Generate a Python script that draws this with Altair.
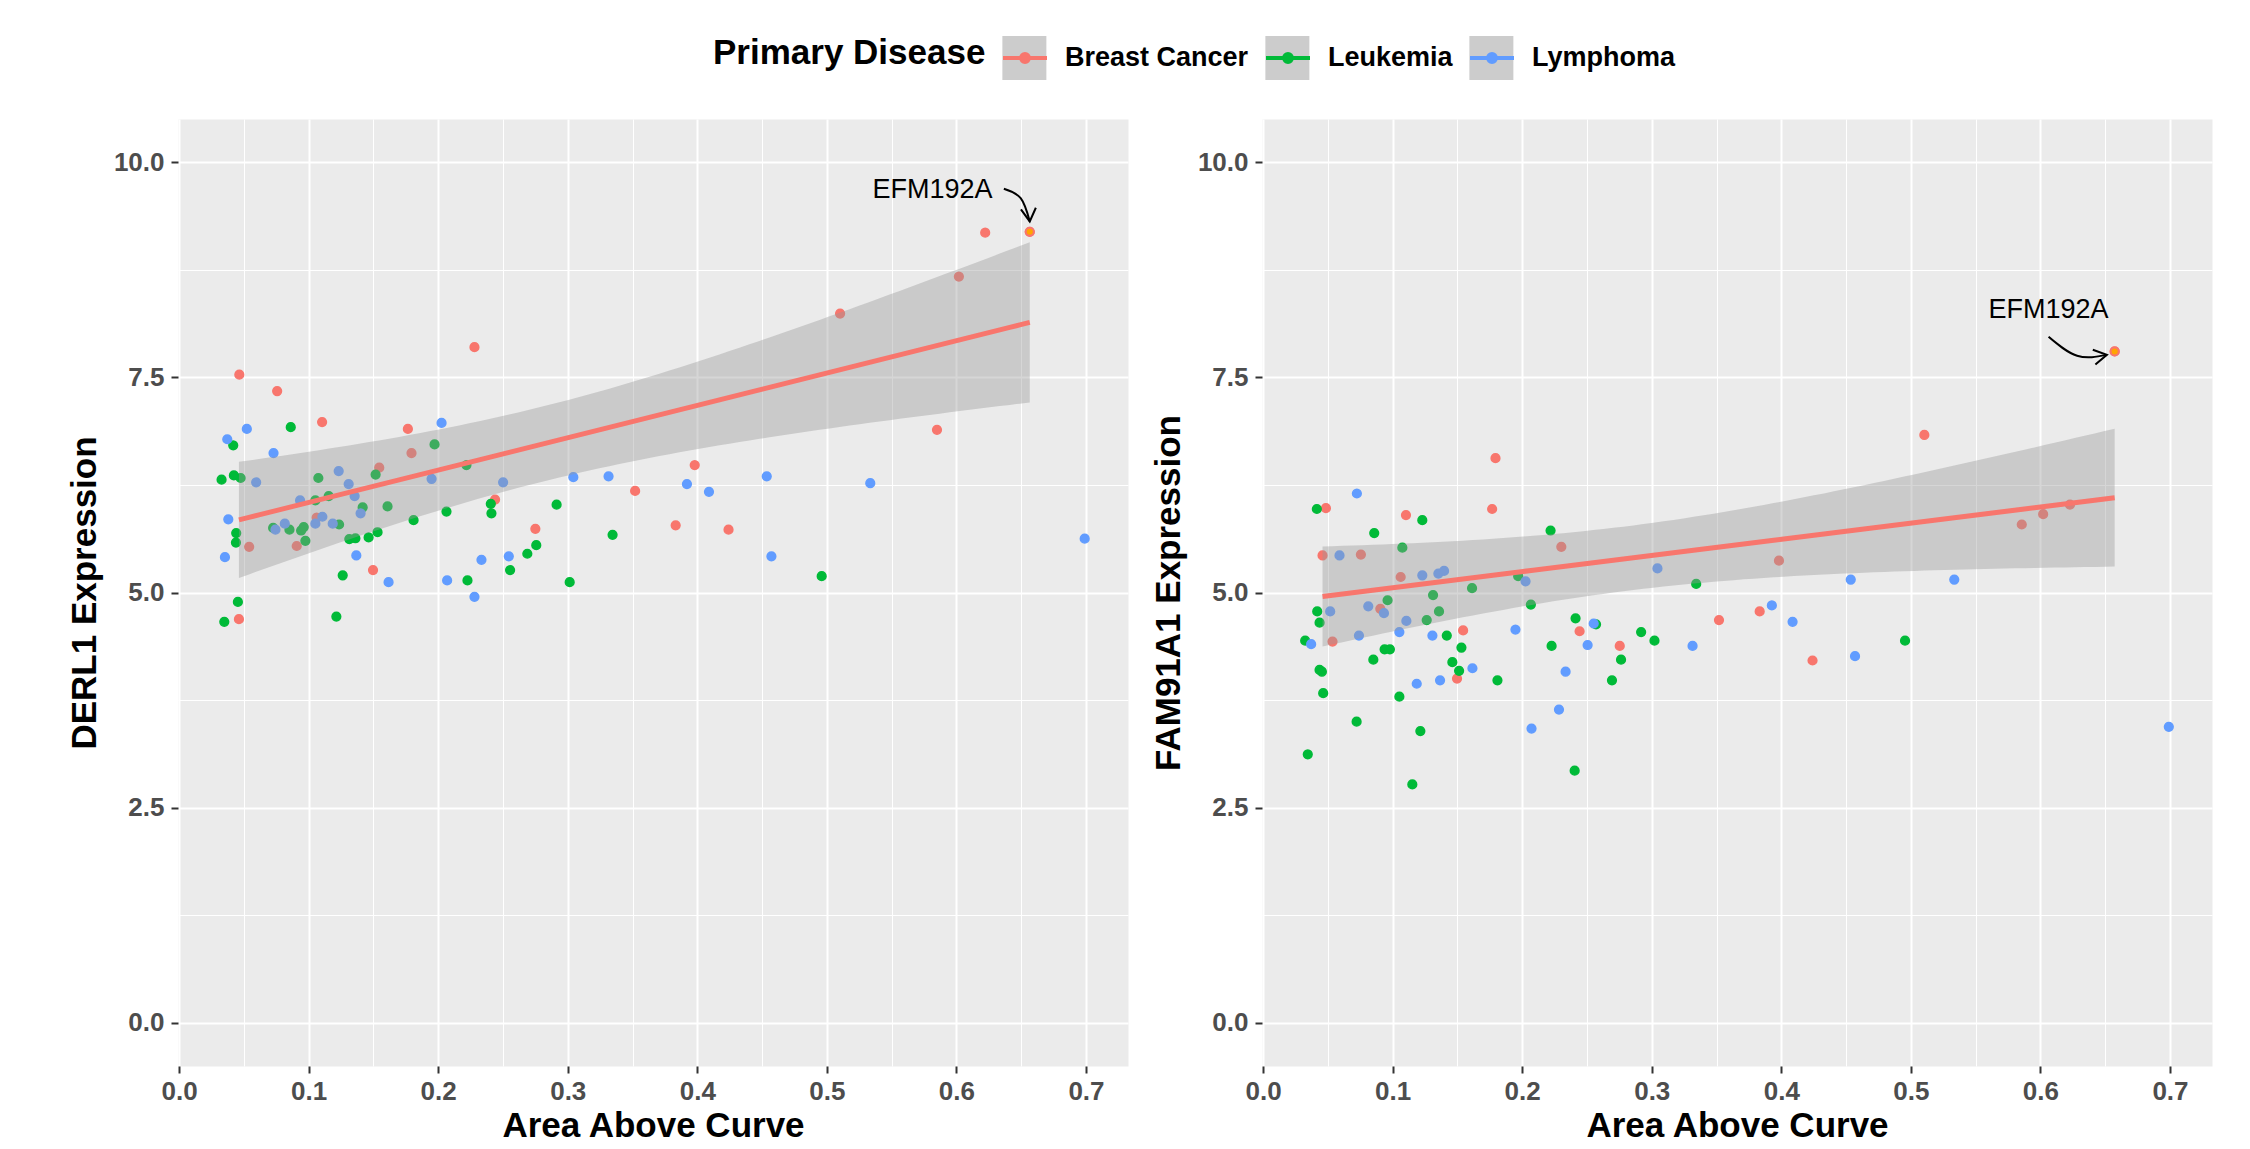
import altair as alt
import numpy as np
import pandas as pd

FONT = "Liberation Sans"

diseases = ["Breast Cancer", "Leukemia", "Lymphoma"]
disease_colors = ["#F8766D", "#00BA38", "#619CFF"]

# ---------------- DERL1 panel ----------------
derl1_breast_aac = [0.0757, 0.1104, 0.1545, 0.1766, 0.1794, 0.1062, 0.0541, 0.0908, 0.2439, 0.275,
                    0.1497, 0.0462, 0.0465, 0.228, 0.352, 0.398, 0.585, 0.3833, 0.4241, 0.5102,
                    0.6019, 0.6222, 0.6566]
derl1_breast_expr = [7.34, 6.98, 6.45, 6.90, 6.62, 5.87, 5.53, 5.54, 6.08, 5.74,
                     5.26, 4.69, 7.53, 7.85, 6.18, 6.48, 6.89, 5.78, 5.73, 8.24,
                     8.67, 9.18, 9.19]
derl1_leuk_aac = [0.0862, 0.0418, 0.0328, 0.0423, 0.0475, 0.1075, 0.1517, 0.1972, 0.2218, 0.1052,
                  0.1155, 0.1417, 0.1609, 0.1235, 0.0726, 0.0852, 0.0962, 0.0942, 0.0975, 0.0441,
                  0.0439, 0.1314, 0.1361, 0.1463, 0.1532, 0.181, 0.2064, 0.2406, 0.2411, 0.2914,
                  0.2757, 0.2688, 0.2555, 0.1263, 0.2226, 0.3015, 0.0454, 0.0349, 0.1214, 0.3346,
                  0.496]
derl1_leuk_expr = [6.92, 6.71, 6.31, 6.36, 6.33, 6.33, 6.37, 6.72, 6.48, 6.07,
                   6.12, 5.99, 6.00, 5.79, 5.75, 5.73, 5.76, 5.72, 5.60, 5.69,
                   5.58, 5.62, 5.63, 5.64, 5.70, 5.84, 5.94, 6.03, 5.92, 6.02,
                   5.55, 5.45, 5.26, 5.20, 5.14, 5.12, 4.89, 4.66, 4.72, 5.67,
                   5.19]
derl1_lymph_aac = [0.0523, 0.0372, 0.0729, 0.0595, 0.1232, 0.1309, 0.2026, 0.1949, 0.2501, 0.3043,
                   0.0934, 0.1355, 0.1401, 0.038, 0.1106, 0.1052, 0.1186, 0.0816, 0.0744, 0.2545,
                   0.2334, 0.1368, 0.0354, 0.1617, 0.2069, 0.228, 0.3315, 0.392, 0.409, 0.4536,
                   0.5335, 0.4572, 0.699]
derl1_lymph_expr = [6.90, 6.78, 6.62, 6.28, 6.41, 6.26, 6.97, 6.32, 6.28, 6.34,
                    6.07, 6.12, 5.92, 5.85, 5.88, 5.80, 5.80, 5.80, 5.73, 5.42,
                    5.38, 5.43, 5.41, 5.12, 5.14, 4.95, 6.35, 6.26, 6.17, 6.35,
                    6.27, 5.42, 5.625]

# ---------------- FAM91A1 panel ----------------
fam_breast_aac = [0.1794, 0.0485, 0.1103, 0.1768, 0.2302, 0.0459, 0.0755, 0.1062, 0.0905, 0.1544,
                  0.0536, 0.1497, 0.2443, 0.2753, 0.3519, 0.3833, 0.3982, 0.4241, 0.5104, 0.5856,
                  0.6021, 0.6228, 0.6573]
fam_breast_expr = [6.56, 5.98, 5.90, 5.97, 5.53, 5.43, 5.44, 5.18, 4.81, 4.56,
                   4.43, 4.00, 4.55, 4.38, 4.68, 4.78, 5.37, 4.21, 6.83, 5.79,
                   5.91, 6.02, 7.80]
fam_leuk_aac = [0.0415, 0.1229, 0.0858, 0.2219, 0.1075, 0.1969, 0.1613, 0.1312, 0.0961, 0.0418,
                0.1358, 0.0436, 0.1263, 0.2067, 0.1418, 0.0325, 0.0938, 0.0979, 0.1531, 0.0851,
                0.1461, 0.1513, 0.1809, 0.0436, 0.0454, 0.0464, 0.1052, 0.0722, 0.1214, 0.0345,
                0.1152, 0.2227, 0.2412, 0.2693, 0.2763, 0.2918, 0.3021, 0.2405, 0.257, 0.3343,
                0.4955]
fam_leuk_expr = [5.97, 5.84, 5.69, 5.72, 5.52, 5.19, 5.05, 4.97, 4.91, 4.78,
                 4.78, 4.65, 4.68, 4.86, 4.50, 4.44, 4.34, 4.34, 4.36, 4.22,
                 4.19, 4.09, 3.98, 4.10, 4.08, 3.83, 3.79, 3.50, 3.39, 3.12,
                 2.77, 4.38, 4.70, 3.98, 4.22, 4.54, 4.44, 2.93, 4.63, 5.10,
                 4.44]
fam_lymph_aac = [0.0724, 0.059, 0.1229, 0.1353, 0.1397, 0.2026, 0.3044, 0.0518, 0.0812, 0.0933,
                 0.1106, 0.1052, 0.1307, 0.1948, 0.0371, 0.074, 0.1616, 0.1366, 0.1186, 0.2552,
                 0.2505, 0.2335, 0.2284, 0.2072, 0.4536, 0.5335, 0.3927, 0.4087, 0.3315, 0.4569,
                 0.6991]
fam_lymph_expr = [6.15, 5.43, 5.20, 5.22, 5.25, 5.13, 5.28, 4.78, 4.84, 4.76,
                  4.67, 4.54, 4.50, 4.57, 4.40, 4.50, 4.12, 3.98, 3.94, 4.64,
                  4.39, 4.08, 3.64, 3.42, 5.15, 5.15, 4.85, 4.66, 4.38, 4.26,
                  3.44]

highlight_label = "EFM192A"   # last Breast Cancer entry in each panel
legend_title = "Primary Disease"

x_major = [0.0, 0.1, 0.2, 0.3, 0.4, 0.5, 0.6, 0.7]
x_minor = [0.05, 0.15, 0.25, 0.35, 0.45, 0.55, 0.65]
y_major = [0.0, 2.5, 5.0, 7.5, 10.0]
y_minor = [1.25, 3.75, 6.25, 8.75]
y_limits = [0.0, 10.0]
T_CRIT = 2.0796  # 97.5% t quantile, df = 23 - 2

# annotation offsets relative to the highlighted point (data units)
derl1_label_off = (-0.075, 0.49)
derl1_arrow_off = ([-0.020, -0.007, 0.0], [0.50, 0.39, 0.12])
fam_label_off = (-0.051, 0.48)
fam_arrow_off = ([-0.051, -0.029, -0.006], [0.17, -0.05, -0.04])


def make_df(groups):
    rows = []
    for dis, xs, ys in groups:
        for a, b in zip(xs, ys):
            rows.append({"aac": a, "expr": b, "disease": dis})
    return pd.DataFrame(rows)


def fit_band(x, y, n_grid=80):
    x = np.asarray(x, float)
    y = np.asarray(y, float)
    n = len(x)
    b1, b0 = np.polyfit(x, y, 1)
    resid = y - (b0 + b1 * x)
    s = np.sqrt(np.sum(resid ** 2) / (n - 2))
    xm = x.mean()
    sxx = np.sum((x - xm) ** 2)
    grid = np.linspace(x.min(), x.max(), n_grid)
    fit = b0 + b1 * grid
    se = s * np.sqrt(1.0 / n + (grid - xm) ** 2 / sxx)
    return pd.DataFrame({"aac": grid, "fit": fit, "lo": fit - T_CRIT * se, "hi": fit + T_CRIT * se})


derl1_df = make_df([("Breast Cancer", derl1_breast_aac, derl1_breast_expr),
                    ("Leukemia", derl1_leuk_aac, derl1_leuk_expr),
                    ("Lymphoma", derl1_lymph_aac, derl1_lymph_expr)])
fam_df = make_df([("Breast Cancer", fam_breast_aac, fam_breast_expr),
                  ("Leukemia", fam_leuk_aac, fam_leuk_expr),
                  ("Lymphoma", fam_lymph_aac, fam_lymph_expr)])

all_x = pd.concat([derl1_df["aac"], fam_df["aac"]])
xr = all_x.max() - all_x.min()
x_domain = [float(all_x.min() - 0.05 * xr), float(all_x.max() + 0.05 * xr)]
yr = y_limits[1] - y_limits[0]
y_domain = [y_limits[0] - 0.05 * yr, y_limits[1] + 0.05 * yr]

# legend geometry
TITLE_SIZE = 35
TITLE_PAD = 15
# width of the bold legend title (Liberation Sans Bold advance widths, em units)
_bold_widths = {"P": 0.667, "r": 0.389, "i": 0.278, "m": 0.889, "a": 0.556, "y": 0.556, " ": 0.278,
                "D": 0.722, "s": 0.556, "e": 0.556}
title_width = sum(_bold_widths[c] for c in legend_title) * TITLE_SIZE
LEG_X = 535
LEG_Y = -85

legend_common = dict(
    orient="none", legendY=LEG_Y, direction="horizontal",
    labelFont=FONT, labelFontSize=27, labelFontWeight="bold", labelOffset=16, labelLimit=800,
    columnPadding=9, symbolSize=1936, padding=0, symbolStrokeWidth=4,
)
legend_colors = alt.Legend(
    **legend_common, legendX=LEG_X, title=legend_title, titleOrient="left", titleFont=FONT,
    titleFontSize=TITLE_SIZE, titleFontWeight="bold", titlePadding=TITLE_PAD, titleLimit=800,
    titleColor="black", labelColor="black",
    symbolType="M-1,0L1,0M0.18,0A0.18,0.18,0,1,1,-0.18,0A0.18,0.18,0,1,1,0.18,0Z",
    zindex=2,
)
legend_boxes = alt.Legend(
    **legend_common, legendX=LEG_X + title_width + TITLE_PAD, title=None,
    labelColor="transparent", symbolFillColor="#CCCCCC", symbolStrokeColor="transparent", zindex=1,
)


def panel(df, breast_x, breast_y, ytitle, label_off, arrow_off, head_angle, with_boxes):
    x_scale = alt.Scale(domain=x_domain, nice=False, zero=False)
    y_scale = alt.Scale(domain=y_domain, nice=False, zero=False)
    color_scale = alt.Scale(range=disease_colors)

    major_x = alt.Axis(orient="bottom", values=x_major, format=".1f", grid=True, gridColor="white",
                       gridWidth=2, labelFont=FONT, labelFontSize=26, labelFontWeight="bold",
                       labelColor="#4D4D4D", labelPadding=5, labelFlush=False, tickColor="#333333",
                       tickWidth=2, tickSize=7, domain=False, title="Area Above Curve", titleFont=FONT,
                       titleFontSize=35, titleFontWeight="bold", titleColor="black", titlePadding=4)
    major_y = alt.Axis(orient="left", values=y_major, format=".1f", grid=True, gridColor="white",
                       gridWidth=2, labelFont=FONT, labelFontSize=26, labelFontWeight="bold",
                       labelColor="#4D4D4D", labelPadding=7, tickColor="#333333", tickWidth=2,
                       tickSize=7, domain=False, title=ytitle, titleFont=FONT, titleFontSize=35,
                       titleFontWeight="bold", titleColor="black", titlePadding=11)
    minor_x = alt.Axis(orient="top", values=x_minor, grid=True, gridColor="white", gridWidth=1,
                       labels=False, ticks=False, domain=False, title=None, minExtent=0, maxExtent=0)
    minor_y = alt.Axis(orient="right", values=y_minor, grid=True, gridColor="white", gridWidth=1,
                       labels=False, ticks=False, domain=False, title=None, minExtent=0, maxExtent=0)

    def X(field, axis=None):
        if axis is None:
            return alt.X(field, type="quantitative", scale=x_scale, axis=None)
        return alt.X(field, type="quantitative", scale=x_scale, axis=axis)

    def Y(field, axis=None):
        if axis is None:
            return alt.Y(field, type="quantitative", scale=y_scale, axis=None)
        return alt.Y(field, type="quantitative", scale=y_scale, axis=axis)

    minor = alt.Chart(df).mark_point(opacity=0).encode(x=X("aac", minor_x), y=Y("expr", minor_y))

    pts = alt.Chart(df).mark_point(filled=True, size=76, strokeWidth=1.5, opacity=1).encode(
        x=X("aac", major_x), y=Y("expr", major_y),
        fill=alt.Fill("disease:N", scale=color_scale, legend=legend_colors),
        stroke=alt.Stroke("disease:N", scale=color_scale, legend=legend_colors),
    )

    band = fit_band(breast_x, breast_y)
    band_layer = alt.Chart(band).mark_area(color="#999999", opacity=0.4).encode(
        x=X("aac"), y=Y("lo"), y2="hi")
    line_layer = alt.Chart(band).mark_line(color="#F8766D", strokeWidth=5).encode(
        x=X("aac"), y=Y("fit"))

    hx, hy = breast_x[-1], breast_y[-1]
    hi_df = pd.DataFrame({"aac": [hx], "expr": [hy]})
    hi_layer = alt.Chart(hi_df).mark_point(filled=True, fill="#FFA500", stroke="#F8766D",
                                           strokeWidth=2, size=66, opacity=1).encode(
        x=X("aac"), y=Y("expr"))

    lab_df = pd.DataFrame({"aac": [hx + label_off[0]], "expr": [hy + label_off[1]],
                           "label": [highlight_label]})
    text_layer = alt.Chart(lab_df).mark_text(font=FONT, fontSize=27, color="black", align="center",
                                             baseline="middle").encode(
        x=X("aac"), y=Y("expr"), text="label:N")

    arr_df = pd.DataFrame({"aac": [hx + d for d in arrow_off[0]],
                           "expr": [hy + d for d in arrow_off[1]]})
    arrow_layer = alt.Chart(arr_df).mark_line(color="black", strokeWidth=2, interpolate="natural").encode(
        x=X("aac"), y=Y("expr"))
    head_df = arr_df.tail(1)
    head_layer = alt.Chart(head_df).mark_point(shape="M-1,-0.577L0,0L-1,0.577", filled=False,
                                               color="black", strokeWidth=2, size=676, opacity=1,
                                               angle=head_angle).encode(x=X("aac"), y=Y("expr"))

    layers = [minor, pts, band_layer, line_layer, hi_layer, text_layer, arrow_layer, head_layer]
    if with_boxes:
        dummy = alt.Chart(df).transform_filter("false").mark_point(
            filled=True, color="#CCCCCC", opacity=1, size=1936).encode(
            x=X("aac"), y=Y("expr"),
            shape=alt.Shape("disease:N", scale=alt.Scale(domain=diseases, range=["square"] * 3),
                            legend=legend_boxes))
        layers.append(dummy)
    return alt.layer(*layers).resolve_axis(x="independent", y="independent").properties(
        width=950, height=947)


left = panel(derl1_df, derl1_breast_aac, derl1_breast_expr, "DERL1 Expression",
             derl1_label_off, derl1_arrow_off, 84, True)
right = panel(fam_df, fam_breast_aac, fam_breast_expr, "FAM91A1 Expression",
              fam_label_off, fam_arrow_off, 350, False)

chart = alt.hconcat(left, right, spacing=21).properties(
    padding={"left": 58, "top": 26, "right": 5, "bottom": 0}
).configure_view(fill="#EBEBEB", stroke="transparent")

chart.save("out.html", embed_options={"renderer": "svg", "actions": False})
